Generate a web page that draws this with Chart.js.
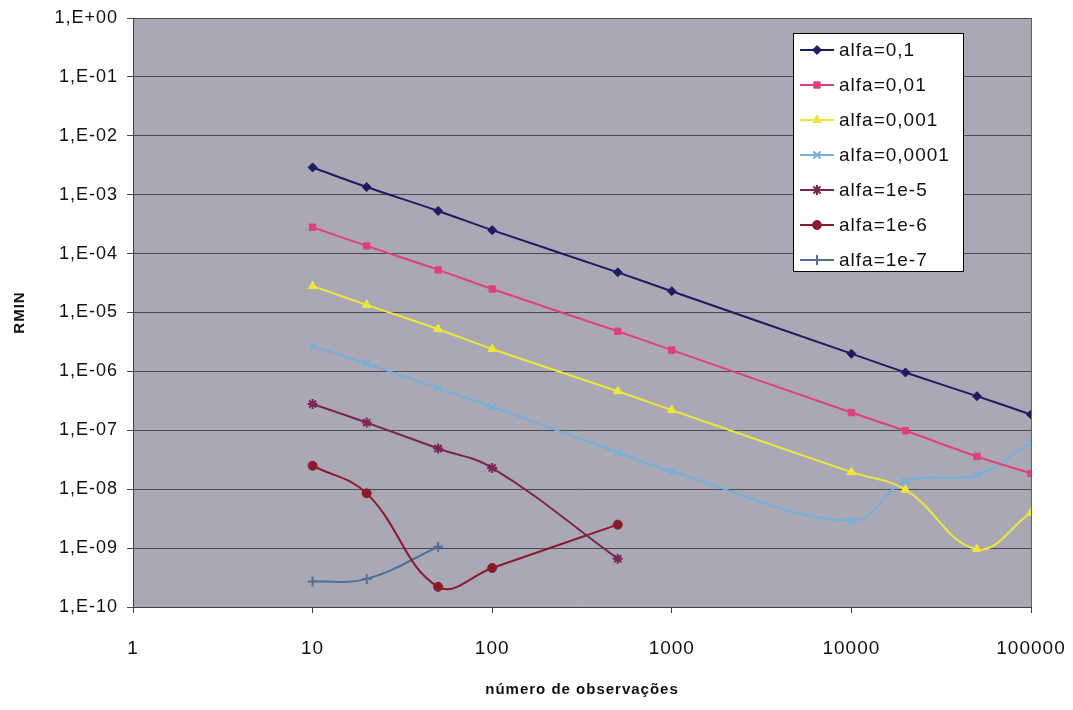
<!DOCTYPE html>
<html>
<head>
<meta charset="utf-8">
<script src="https://cdn.jsdelivr.net/npm/chart.js@4/dist/chart.umd.min.js"></script>
<style>
html,body{margin:0;padding:0;background:#ffffff;}
#wrap{width:1073px;height:710px;position:relative;}
</style>
</head>
<body>
<div id="wrap"><canvas id="c" width="1073" height="710"></canvas></div>
<script>
// ---- data ----
const observations = [10, 20, 50, 100, 500, 1000, 10000, 20000, 50000, 100000];
const seriesNames = ["alfa=0,1", "alfa=0,01", "alfa=0,001", "alfa=0,0001", "alfa=1e-5", "alfa=1e-6", "alfa=1e-7"];
const alfa_0_1    = [2.9e-3, 1.35e-3, 5.3e-4, 2.5e-4, 4.8e-5, 2.3e-5, 2.0e-6, 9.6e-7, 3.8e-7, 1.85e-7];
const alfa_0_01   = [2.8e-4, 1.35e-4, 5.3e-5, 2.5e-5, 4.8e-6, 2.3e-6, 2.0e-7, 9.8e-8, 3.6e-8, 1.85e-8];
const alfa_0_001  = [2.8e-5, 1.35e-5, 5.2e-6, 2.4e-6, 4.6e-7, 2.2e-7, 1.95e-8, 9.8e-9, 9.6e-10, 4.0e-9];
const alfa_0_0001 = [2.7e-6, 1.35e-6, 5.2e-7, 2.5e-7, 4.2e-8, 2.0e-8, 2.9e-9, 1.35e-8, 1.75e-8, 6.2e-8];
const alfa_1e_5   = [2.8e-7, 1.35e-7, 4.9e-8, 2.3e-8, 6.6e-10];
const alfa_1e_6   = [2.5e-8, 8.5e-9, 2.2e-10, 4.6e-10, 2.5e-9];
const alfa_1e_7   = [2.7e-10, 3.0e-10, 1.05e-9];
const xTickValues = [1, 10, 100, 1000, 10000, 100000];
const yTickValues = [1e-10, 1e-9, 1e-8, 1e-7, 1e-6, 1e-5, 1e-4, 1e-3, 1e-2, 1e-1, 1];
const yTickLabels = ["1,E-10","1,E-09","1,E-08","1,E-07","1,E-06","1,E-05","1,E-04","1,E-03","1,E-02","1,E-01","1,E+00"];

const seriesValues = [alfa_0_1, alfa_0_01, alfa_0_001, alfa_0_0001, alfa_1e_5, alfa_1e_6, alfa_1e_7];
const colors = ["#1c1c62", "#e0407a", "#efe63a", "#74b0da", "#7a2458", "#8a1a2c", "#4c7098"];
const styles = ["rectRot", "rect", "triangle", "crossRot", "star", "circle", "cross"];
const radii = [4.5, 4.5, 5, 5, 5, 4.5, 5];

const FONT = "'Liberation Sans', Arial, sans-serif";

const datasets = seriesValues.map((vals, i) => ({
  label: seriesNames[i],
  data: vals.map((v, j) => ({x: observations[j], y: v})),
  borderColor: colors[i],
  backgroundColor: colors[i],
  pointBackgroundColor: colors[i],
  pointBorderColor: colors[i],
  pointStyle: styles[i],
  pointRadius: radii[i],
  pointBorderWidth: (styles[i] === "crossRot" || styles[i] === "cross" || styles[i] === "star") ? 2 : 1,
  borderWidth: 2,
  tension: 0.4,
  fill: false
}));

const plotBg = {
  id: 'plotBg',
  beforeDraw(chart) {
    const {ctx, chartArea: a} = chart;
    ctx.letterSpacing = '1px';
    ctx.save();
    ctx.fillStyle = '#aaa8b5';
    ctx.fillRect(a.left, a.top, a.right - a.left, a.bottom - a.top);
    ctx.restore();
  },
  afterDraw(chart) {
    const {ctx, chartArea: a} = chart;
    ctx.save();
    ctx.strokeStyle = '#606068';
    ctx.lineWidth = 1;
    ctx.beginPath();
    ctx.moveTo(a.right + 0.5, a.top);
    ctx.lineTo(a.right + 0.5, a.bottom);
    ctx.stroke();
    // legend
    const bx = 793, by = 33, bw = 170, bh = 238;
    ctx.fillStyle = '#ffffff';
    ctx.fillRect(bx, by, bw, bh);
    ctx.strokeStyle = '#000000';
    ctx.lineWidth = 1;
    ctx.strokeRect(bx + 0.5, by + 0.5, bw, bh);
    ctx.font = "19px " + FONT;
    ctx.textBaseline = 'middle';
    ctx.textAlign = 'left';
    chart.data.datasets.forEach((ds, i) => {
      const y = 50 + i * 35;
      ctx.strokeStyle = ds.borderColor;
      ctx.lineWidth = 2;
      ctx.beginPath();
      ctx.moveTo(800, y);
      ctx.lineTo(834, y);
      ctx.stroke();
      if (Chart.helpers && Chart.helpers.drawPoint) {
        ctx.fillStyle = ds.pointBackgroundColor;
        ctx.strokeStyle = ds.pointBorderColor;
        ctx.lineWidth = ds.pointBorderWidth;
        Chart.helpers.drawPoint(ctx, {pointStyle: ds.pointStyle, radius: ds.pointRadius, rotation: 0, borderWidth: ds.pointBorderWidth}, 817, y);
      }
      ctx.fillStyle = '#111111';
      ctx.fillText(ds.label, 839, y + 1);
    });
    ctx.restore();
  }
};

new Chart(document.getElementById('c'), {
  type: 'line',
  data: {datasets},
  plugins: [plotBg],
  options: {
    responsive: false,
    animation: false,
    devicePixelRatio: 1,
    layout: {padding: {top: 18, right: 42, left: 0, bottom: 0}},
    plugins: {legend: {display: false}, tooltip: {enabled: false}},
    scales: {
      x: {
        type: 'logarithmic',
        position: 'bottom',
        min: 1, max: 100000,
        afterBuildTicks(scale) { scale.ticks = xTickValues.map(v => ({value: v})); },
        afterFit(scale) { scale.height = 103; scale.paddingLeft = 0; scale.paddingRight = 0; },
        ticks: {
          autoSkip: false, maxRotation: 0, padding: 24, color: '#111111',
          font: {family: FONT, size: 19},
          callback(v) { return String(v); }
        },
        grid: {drawOnChartArea: false, drawTicks: true, tickLength: 6, color: '#404048'},
        border: {display: true, color: '#404048', width: 1},
        title: {display: true, text: 'número de observações', color: '#111111',
          font: {family: FONT, size: 15, weight: 'bold'}, padding: {top: 0, bottom: 11}}
      },
      y: {
        type: 'logarithmic',
        position: 'left',
        min: 1e-10, max: 1,
        afterBuildTicks(scale) { scale.ticks = yTickValues.map(v => ({value: v})); },
        afterFit(scale) { scale.width = 133; scale.paddingTop = 0; scale.paddingBottom = 0; },
        ticks: {
          autoSkip: false, padding: 9, color: '#111111',
          font: {family: FONT, size: 18},
          callback(v) {
            const idx = yTickValues.findIndex(t => Math.abs(Math.log10(t) - Math.log10(v)) < 1e-6);
            return idx >= 0 ? yTickLabels[idx] : '';
          }
        },
        grid: {drawOnChartArea: true, drawTicks: true, tickLength: 6, color: '#4a4a52', lineWidth: 1},
        border: {display: true, color: '#404048', width: 1},
        title: {display: true, text: 'RMIN', color: '#111111',
          font: {family: FONT, size: 15, weight: 'bold'}, padding: {top: 11, bottom: 0}}
      }
    }
  }
});
</script>
</body>
</html>
